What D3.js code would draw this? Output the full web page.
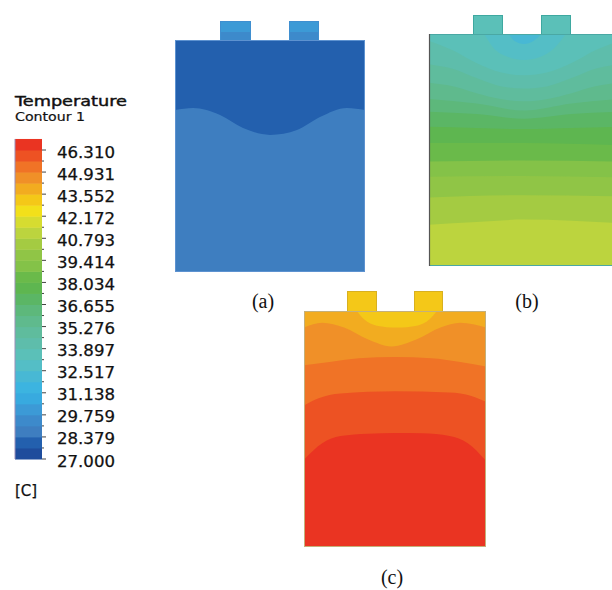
<!DOCTYPE html>
<html>
<head>
<meta charset="utf-8">
<script src="https://cdn.jsdelivr.net/npm/d3@7"></script>
<style>
  body { margin: 0; background: #fff; }
</style>
</head>
<body>
<script>
// --- DATA ---
// legend ticks (deg C)
const tickValues = [27.000, 28.379, 29.759, 31.138, 32.517, 33.897, 35.276, 36.655,
                    38.034, 39.414, 40.793, 42.172, 43.552, 44.931, 46.310];
const tickLabels = ["27.000", "28.379", "29.759", "31.138", "32.517", "33.897", "35.276", "36.655",
                    "38.034", "39.414", "40.793", "42.172", "43.552", "44.931", "46.310"];

// colour band index per region, top -> bottom; lines are the contour boundaries
// between them, as [x fraction, y fraction] of the cell body
const aLevels = [1, 2];
const aLines = [
  [[0, 0.302], [0.095, 0.293], [0.237, 0.323], [0.358, 0.379], [0.5, 0.409], [0.642, 0.388], [0.763, 0.332], [0.905, 0.293], [1, 0.302]]
];
const aTabLevels = [4, 3];
const aTabLines = [0.58];

const bLevels = [7, 8, 9, 10, 11, 12, 13, 14, 15, 16, 17, 18, 19, 20];
const bLines = [
  [[0.42, 0], [0.45, 0.03], [0.5, 0.043], [0.55, 0.03], [0.59, 0]],
  [[0.29, 0], [0.34, 0.06], [0.42, 0.1], [0.5, 0.112], [0.58, 0.1], [0.66, 0.06], [0.72, 0]],
  [[0, 0.03], [0.125, 0.07], [0.25, 0.125], [0.375, 0.165], [0.5, 0.178], [0.625, 0.165], [0.75, 0.125], [0.875, 0.07], [1, 0.03]],
  [[0, 0.13], [0.125, 0.15], [0.25, 0.19], [0.375, 0.225], [0.5, 0.235], [0.625, 0.225], [0.75, 0.19], [0.875, 0.15], [1, 0.13]],
  [[0, 0.21], [0.125, 0.225], [0.25, 0.255], [0.375, 0.28], [0.5, 0.29], [0.625, 0.28], [0.75, 0.255], [0.875, 0.225], [1, 0.21]],
  [[0, 0.28], [0.25, 0.30], [0.5, 0.33], [0.75, 0.30], [1, 0.28]],
  [[0, 0.335], [0.25, 0.345], [0.5, 0.365], [0.75, 0.345], [1, 0.335]],
  [[0, 0.40], [0.25, 0.405], [0.5, 0.41], [0.75, 0.405], [1, 0.40]],
  [[0, 0.47], [0.5, 0.47], [1, 0.48]],
  [[0, 0.55], [0.5, 0.545], [1, 0.55]],
  [[0, 0.615], [0.5, 0.612], [1, 0.618]],
  [[0, 0.705], [0.5, 0.695], [1, 0.70]],
  [[0, 0.822], [0.25, 0.81], [0.5, 0.80], [0.75, 0.805], [1, 0.815]]
];
const bTabLevels = [9];
const bTabLines = [];

const cLevels = [23, 24, 25, 26, 27, 28];
const cLines = [
  [[0.29, 0], [0.33, 0.035], [0.4, 0.062], [0.51, 0.07], [0.62, 0.062], [0.69, 0.035], [0.73, 0]],
  [[0, 0.07], [0.1, 0.05], [0.22, 0.07], [0.35, 0.12], [0.48, 0.15], [0.62, 0.12], [0.75, 0.07], [0.86, 0.05], [1, 0.07]],
  [[0, 0.23], [0.15, 0.215], [0.3, 0.2], [0.5, 0.195], [0.7, 0.2], [0.85, 0.215], [1, 0.235]],
  [[0, 0.40], [0.08, 0.37], [0.2, 0.35], [0.5, 0.34], [0.8, 0.345], [0.92, 0.36], [1, 0.385]],
  [[0, 0.63], [0.1, 0.56], [0.2, 0.53], [0.35, 0.52], [0.5, 0.517], [0.65, 0.518], [0.8, 0.53], [0.9, 0.56], [1, 0.635]]
];
const cTabLevels = [23];
const cTabLines = [];

// --- STYLE ---
// 29 legend bands, bottom (27.0) to top
const palette = [
  "#1e4c9c", "#2360ae", "#3e7ec0", "#3d8acb", "#3c9ad6", "#38aadf", "#3cb4e0", "#48b8d4",
  "#54bec6", "#5bc0b8", "#5ebdab", "#5fbc9d", "#5fba8d", "#5db87b", "#5bb665", "#5eb650",
  "#6aba4a", "#84c248", "#90c546", "#a4cb42", "#bcd43e", "#d6dc30", "#f2e01a", "#f4c818",
  "#f2ac20", "#f09028", "#f07326", "#ed5223", "#ea3422"
];

const W = 612, H = 590;
const svg = d3.select("body").append("svg")
  .attr("width", W)
  .attr("height", H);

// --- LEGEND ---
const vMin = tickValues[0], vMax = tickValues[tickValues.length - 1];
const step = (vMax - vMin) / 28;
const yBar = d3.scaleLinear().domain([vMin, vMax]).range([459, 150]);

const legend = svg.append("g");
legend.append("text")
  .attr("x", 15).attr("y", 106)
  .attr("font-family", "DejaVu Sans").attr("font-size", 14.5)
  .attr("textLength", 112).attr("lengthAdjust", "spacingAndGlyphs")
  .attr("fill", "#111")
  .attr("stroke", "#111").attr("stroke-width", 0.45)
  .text("Temperature");
legend.append("text")
  .attr("x", 15).attr("y", 121)
  .attr("font-family", "DejaVu Sans").attr("font-size", 12)
  .attr("textLength", 70).attr("lengthAdjust", "spacingAndGlyphs")
  .attr("fill", "#111")
  .attr("stroke", "#111").attr("stroke-width", 0.2)
  .text("Contour 1");

legend.append("g")
  .selectAll("rect")
  .data(palette)
  .enter()
  .append("rect")
  .attr("x", 15)
  .attr("width", 27)
  .attr("y", (d, i) => yBar(vMin + (i + 1) * step))
  .attr("height", yBar(vMin) - yBar(vMin + step) + 0.5)
  .attr("fill", d => d);

legend.append("line")
  .attr("x1", 15).attr("x2", 15)
  .attr("y1", yBar(vMin + 29 * step)).attr("y2", yBar(vMin))
  .attr("stroke", "#9a8fb8").attr("stroke-width", 1);

legend.append("g")
  .selectAll("line")
  .data(d3.range(29))
  .enter()
  .append("line")
  .attr("x1", 42).attr("x2", d => d % 2 === 0 ? 46 : 44)
  .attr("y1", d => yBar(vMin + d * step)).attr("y2", d => yBar(vMin + d * step))
  .attr("stroke", "#444").attr("stroke-width", 1);

legend.append("g")
  .selectAll("text")
  .data(tickValues)
  .enter()
  .append("text")
  .attr("x", 57)
  .attr("y", d => yBar(d) + 7.5)
  .attr("font-family", "DejaVu Sans").attr("font-size", 15)
  .attr("textLength", 58).attr("lengthAdjust", "spacingAndGlyphs")
  .attr("fill", "#111")
  .attr("stroke", "#111").attr("stroke-width", 0.25)
  .text((d, i) => tickLabels[i]);

legend.append("text")
  .attr("x", 15).attr("y", 496)
  .attr("font-family", "DejaVu Sans").attr("font-size", 15)
  .attr("fill", "#111")
  .attr("stroke", "#111").attr("stroke-width", 0.25)
  .text("[C]");

// --- PANELS ---
function drawPanel(id, lay, levels, lines, tabLevels, tabLines) {
  const g = svg.append("g");
  const xs = d3.scaleLinear().domain([0, 1]).range([lay.x, lay.x + lay.w]);
  const ys = d3.scaleLinear().domain([0, 1]).range([lay.y, lay.y + lay.h]);

  // tabs
  const ty = d3.scaleLinear().domain([0, 1]).range([lay.tabTop, lay.y]);
  const tabEdges = [0, ...tabLines, 1];
  lay.tabs.forEach(([t0, t1]) => {
    g.append("g")
      .selectAll("rect")
      .data(tabLevels)
      .enter()
      .append("rect")
      .attr("x", t0).attr("width", t1 - t0)
      .attr("y", (d, i) => ty(tabEdges[i]))
      .attr("height", (d, i) => ty(tabEdges[i + 1]) - ty(tabEdges[i]) + 0.5)
      .attr("fill", d => palette[d]);
    g.append("rect")
      .attr("x", t0 + 0.5).attr("y", lay.tabTop + 0.5)
      .attr("width", t1 - t0 - 1).attr("height", lay.y - lay.tabTop)
      .attr("fill", "none").attr("stroke", lay.tabStroke).attr("stroke-width", 1);
  });

  // body contours
  g.append("clipPath").attr("id", id)
    .append("rect")
    .attr("x", lay.x).attr("y", lay.y).attr("width", lay.w).attr("height", lay.h);

  const body = g.append("g").attr("clip-path", `url(#${id})`);
  body.append("rect")
    .attr("x", lay.x).attr("y", lay.y).attr("width", lay.w).attr("height", lay.h)
    .attr("fill", palette[levels[levels.length - 1]]);

  const area = d3.area()
    .x(d => xs(d[0]))
    .y0(ys(-0.05))
    .y1(d => ys(d[1]))
    .curve(d3.curveMonotoneX);

  for (let i = lines.length - 1; i >= 0; i--) {
    body.append("path")
      .attr("d", area(lines[i]))
      .attr("fill", palette[levels[i]]);
  }

  g.append("rect")
    .attr("x", lay.x + 0.5).attr("y", lay.y + 0.5)
    .attr("width", lay.w - 1).attr("height", lay.h - 1)
    .attr("fill", "none").attr("stroke", lay.stroke).attr("stroke-width", 1);
  if (lay.leftStroke) {
    g.append("line")
      .attr("x1", lay.x + 0.5).attr("x2", lay.x + 0.5)
      .attr("y1", lay.y).attr("y2", lay.y + lay.h)
      .attr("stroke", lay.leftStroke).attr("stroke-width", 1.2);
  }

  g.append("text")
    .attr("x", lay.label[0]).attr("y", lay.label[1])
    .attr("text-anchor", "middle")
    .attr("font-family", "Liberation Serif").attr("font-size", 20)
    .attr("fill", "#111")
    .text(lay.label[2]);
}

drawPanel("clipA",
  { x: 175, y: 40, w: 190, h: 232, tabTop: 21, tabs: [[220, 251], [289, 319]],
    stroke: "#5d92d0", tabStroke: "#3f8fd0", label: [263, 308, "(a)"] },
  aLevels, aLines, aTabLevels, aTabLines);

drawPanel("clipB",
  { x: 429, y: 34, w: 190, h: 232, tabTop: 15, tabs: [[473, 503], [541, 571]],
    stroke: "#4aa8a4", tabStroke: "#3ea8a0", leftStroke: "#555", label: [527, 308, "(b)"] },
  bLevels, bLines, bTabLevels, bTabLines);

drawPanel("clipC",
  { x: 304, y: 311, w: 182, h: 236, tabTop: 291, tabs: [[347, 377], [414, 443]],
    stroke: "#c4b07a", tabStroke: "#d8b020", label: [392, 584, "(c)"] },
  cLevels, cLines, cTabLevels, cTabLines);
</script>
</body>
</html>
